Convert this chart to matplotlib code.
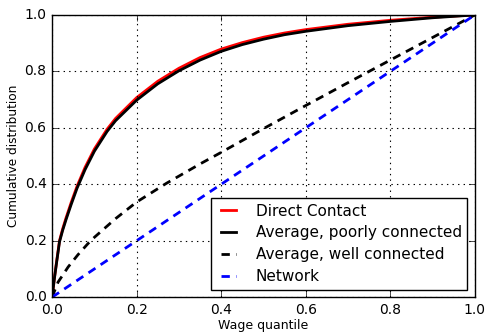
import matplotlib
matplotlib.use("Agg")
import matplotlib.pyplot as plt

# Data
quantile_direct = [0.0, 0.0057, 0.011, 0.0175, 0.025, 0.033, 0.045, 0.059, 0.078, 0.1, 0.13,
                   0.15, 0.2, 0.25, 0.3, 0.35, 0.4, 0.45, 0.5, 0.55, 0.6, 0.7, 0.8, 0.9, 1.0]
direct_contact = [0.0, 0.071, 0.13, 0.2, 0.242, 0.281, 0.335, 0.393, 0.46, 0.525, 0.595,
                  0.633, 0.707, 0.765, 0.811, 0.849, 0.879, 0.902, 0.921, 0.936, 0.948,
                  0.967, 0.981, 0.992, 1.0]
poorly_connected = [0.0, 0.069, 0.127, 0.196, 0.237, 0.275, 0.328, 0.386, 0.452, 0.517, 0.587,
                    0.625, 0.698, 0.756, 0.802, 0.84, 0.871, 0.895, 0.914, 0.93, 0.942,
                    0.962, 0.977, 0.99, 1.0]

quantile_well = [0.0, 0.014, 0.038, 0.061, 0.085, 0.1, 0.15, 0.2, 0.27, 0.35, 0.4,
                 0.5, 0.6, 0.7, 0.8, 0.9, 1.0]
well_connected = [0.0, 0.053, 0.107, 0.15, 0.19, 0.212, 0.278, 0.337, 0.403, 0.472, 0.513,
                  0.597, 0.679, 0.76, 0.84, 0.92, 1.0]

quantile_network = [0.0, 1.0]
network = [0.0, 1.0]

xticks = [0.0, 0.2, 0.4, 0.6, 0.8, 1.0]
yticks = [0.0, 0.2, 0.4, 0.6, 0.8, 1.0]

plt.style.use("classic")
fig = plt.figure(figsize=(4.87, 3.32), dpi=100, facecolor="white")
ax = fig.add_axes([0.107, 0.105, 0.868, 0.85])

ax.plot(quantile_direct, direct_contact, color="red", lw=2, label="Direct Contact")
ax.plot(quantile_direct, poorly_connected, color="black", lw=2, label="Average, poorly connected")
ax.plot(quantile_well, well_connected, color="black", lw=2, ls="--", dashes=(6, 4.5),
        label="Average, well connected")
ax.plot(quantile_network, network, color="blue", lw=2, ls="--", dashes=(6, 4.5), label="Network")

ax.set_xlim(0, 1)
ax.set_ylim(0, 1)
ax.set_xticks(xticks)
ax.set_yticks(yticks)
ax.set_xticklabels([f"{t:.1f}" for t in xticks])
ax.set_yticklabels([f"{t:.1f}" for t in yticks])
ax.tick_params(labelsize=10)
ax.grid(True, color="black", ls=":", lw=0.8)
ax.set_xlabel("Wage quantile", fontsize=9, labelpad=2)
ax.set_ylabel("Cumulative distribution", fontsize=8.7, labelpad=3)

leg = ax.legend(loc="lower right", fontsize=11, frameon=True, fancybox=False,
                handlelength=1.6, borderpad=0.35, labelspacing=0.45, handletextpad=1.0,
                borderaxespad=0.5)
leg.get_frame().set_edgecolor("black")

fig.savefig("out.png", dpi=100, facecolor="white")
